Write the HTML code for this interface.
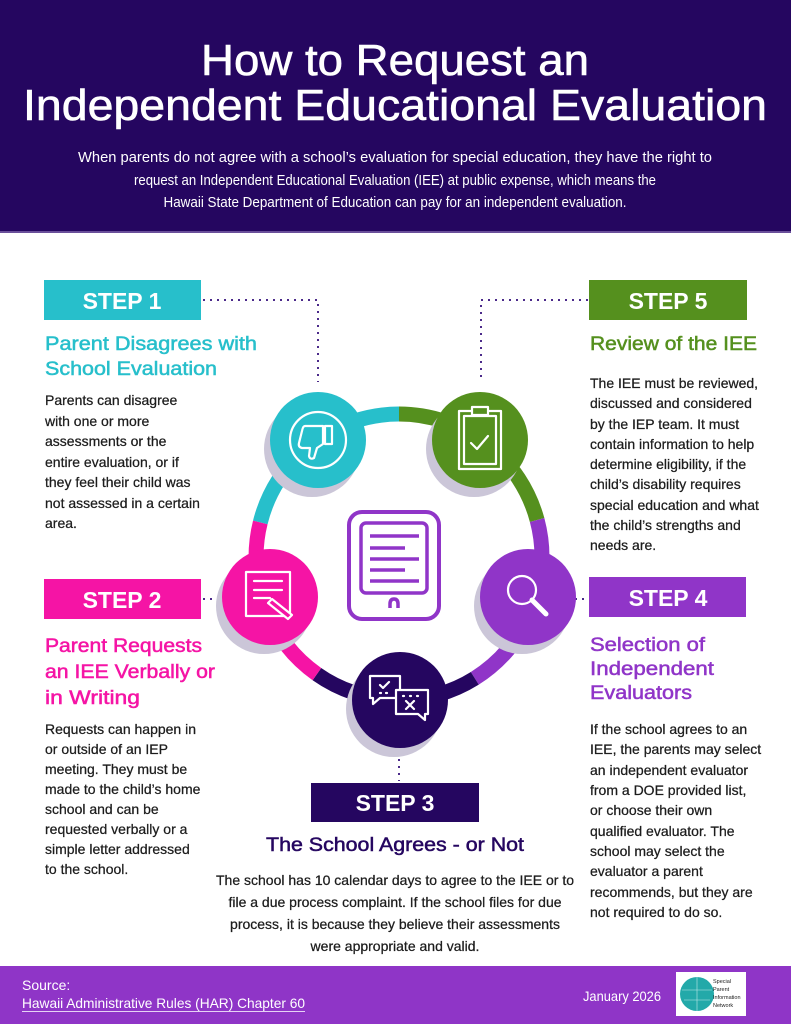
<!DOCTYPE html>
<html><head><meta charset="utf-8"><style>
html,body{margin:0;padding:0;background:#fff}
svg{display:block}
text{font-family:"Liberation Sans",sans-serif}
.b{font-size:14px;fill:#1c1c1c;stroke:#1c1c1c;stroke-width:0.25}
.h{font-size:19px;stroke-width:0.5}
.st{font-size:23px;font-weight:bold;fill:#fff}
</style></head><body>
<svg width="791" height="1024" viewBox="0 0 791 1024" xmlns="http://www.w3.org/2000/svg">
<rect x="0" y="0" width="791" height="231" fill="#250660"/>
<rect x="0" y="231" width="791" height="2" fill="#6a4f9a"/>
<text x="395" y="75" text-anchor="middle" font-size="44" fill="#fff" stroke="#fff" stroke-width="0.6" textLength="388" lengthAdjust="spacingAndGlyphs">How to Request an</text>
<text x="395" y="120" text-anchor="middle" font-size="44" fill="#fff" stroke="#fff" stroke-width="0.6" textLength="744" lengthAdjust="spacingAndGlyphs">Independent Educational Evaluation</text>
<g font-size="15" fill="#fff" text-anchor="middle">
<text x="395" y="162" textLength="634" lengthAdjust="spacingAndGlyphs">When parents do not agree with a school’s evaluation for special education, they have the right to</text>
<text x="395" y="185" textLength="522" lengthAdjust="spacingAndGlyphs">request an Independent Educational Evaluation (IEE) at public expense, which means the</text>
<text x="395" y="207" textLength="463" lengthAdjust="spacingAndGlyphs">Hawaii State Department of Education can pay for an independent evaluation.</text>
</g>

<g stroke="#4b2a8a" stroke-width="2" stroke-dasharray="2 5" fill="none">
<path d="M203 300 H318 V382"/>
<path d="M588 300 H481 V382"/>
<path d="M203 599 H216"/>
<path d="M575 599 H588"/>
<path d="M399 752 V781"/>
</g>

<rect x="44" y="280" width="157" height="40" fill="#27bfcb"/>
<text class="st" x="122" y="309" text-anchor="middle">STEP 1</text>
<rect x="589" y="280" width="158" height="40" fill="#55901e"/>
<text class="st" x="668" y="309" text-anchor="middle">STEP 5</text>
<rect x="44" y="579" width="157" height="40" fill="#f514a5"/>
<text class="st" x="122" y="608" text-anchor="middle">STEP 2</text>
<rect x="589" y="577" width="157" height="40" fill="#9035c8"/>
<text class="st" x="668" y="606" text-anchor="middle">STEP 4</text>
<rect x="311" y="783" width="168" height="39" fill="#250660"/>
<text class="st" x="395" y="811" text-anchor="middle">STEP 3</text>

<g class="h" fill="#27bfcb" stroke="#27bfcb">
<text x="45" y="350" textLength="212" lengthAdjust="spacingAndGlyphs">Parent Disagrees with</text>
<text x="45" y="375" textLength="172" lengthAdjust="spacingAndGlyphs">School Evaluation</text>
</g>
<text class="h" x="590" y="350" fill="#55901e" stroke="#55901e" textLength="167" lengthAdjust="spacingAndGlyphs">Review of the IEE</text>
<g class="h" fill="#f514a5" stroke="#f514a5">
<text x="45" y="652" textLength="157" lengthAdjust="spacingAndGlyphs">Parent Requests</text>
<text x="45" y="678" textLength="170" lengthAdjust="spacingAndGlyphs">an IEE Verbally or</text>
<text x="45" y="704" textLength="95" lengthAdjust="spacingAndGlyphs">in Writing</text>
</g>
<g class="h" fill="#9035c8" stroke="#9035c8">
<text x="590" y="651" textLength="115" lengthAdjust="spacingAndGlyphs">Selection of</text>
<text x="590" y="675" textLength="124" lengthAdjust="spacingAndGlyphs">Independent</text>
<text x="590" y="699" textLength="102" lengthAdjust="spacingAndGlyphs">Evaluators</text>
</g>
<text class="h" x="395" y="851" text-anchor="middle" fill="#250660" stroke="#250660" textLength="258" lengthAdjust="spacingAndGlyphs">The School Agrees - or Not</text>

<g class="b">
<text x="45" y="405">Parents can disagree</text>
<text x="45" y="426">with one or more</text>
<text x="45" y="446">assessments or the</text>
<text x="45" y="467">entire evaluation, or if</text>
<text x="45" y="487">they feel their child was</text>
<text x="45" y="508">not assessed in a certain</text>
<text x="45" y="528">area.</text>
</g>
<g class="b">
<text x="590" y="388">The IEE must be reviewed,</text>
<text x="590" y="408">discussed and considered</text>
<text x="590" y="429">by the IEP team.  It must</text>
<text x="590" y="449">contain information to help</text>
<text x="590" y="469">determine eligibility, if the</text>
<text x="590" y="489">child’s disability requires</text>
<text x="590" y="510">special education and what</text>
<text x="590" y="530">the child’s strengths and</text>
<text x="590" y="550">needs are.</text>
</g>
<g class="b">
<text x="45" y="734">Requests can happen in</text>
<text x="45" y="754">or outside of an IEP</text>
<text x="45" y="774">meeting. They must be</text>
<text x="45" y="794">made to the child’s home</text>
<text x="45" y="814">school and can be</text>
<text x="45" y="834">requested verbally or a</text>
<text x="45" y="854">simple letter addressed</text>
<text x="45" y="874">to the school.</text>
</g>
<g class="b">
<text x="590" y="734">If the school agrees to an</text>
<text x="590" y="754">IEE, the parents may select</text>
<text x="590" y="775">an independent evaluator</text>
<text x="590" y="795">from a DOE provided list,</text>
<text x="590" y="815">or choose their own</text>
<text x="590" y="836">qualified evaluator. The</text>
<text x="590" y="856">school may select the</text>
<text x="590" y="876">evaluator a parent</text>
<text x="590" y="897">recommends, but they are</text>
<text x="590" y="917">not required to do so.</text>
</g>
<g class="b" text-anchor="middle">
<text x="395" y="885">The school has 10 calendar days to agree to the IEE or to</text>
<text x="395" y="907">file a due process complaint.  If the school files for due</text>
<text x="395" y="929">process, it is because they believe their assessments</text>
<text x="395" y="951">were appropriate and valid.</text>
</g>

<g fill="none" stroke-width="15">
<path d="M260.3 522.4 A143 143 0 0 1 399 414" stroke="#27bfcb"/>
<path d="M399 414 A143 143 0 0 1 537.1 520" stroke="#55901e"/>
<path d="M537.1 520 A143 143 0 0 1 474.8 678.3" stroke="#9035c8"/>
<path d="M474.8 678.3 A143 143 0 0 1 316.9 674.1" stroke="#250660"/>
<path d="M316.9 674.1 A143 143 0 0 1 260.3 522.4" stroke="#f514a5"/>
</g>
<g fill="#cbc6d8">
<circle cx="312" cy="449" r="48"/>
<circle cx="474" cy="449" r="48"/>
<circle cx="522" cy="606" r="48"/>
<circle cx="264" cy="606" r="48"/>
<circle cx="394" cy="709" r="48"/>
</g>
<circle cx="318" cy="440" r="48" fill="#27bfcb"/>
<circle cx="480" cy="440" r="48" fill="#55901e"/>
<circle cx="528" cy="597" r="48" fill="#9035c8"/>
<circle cx="270" cy="597" r="48" fill="#f514a5"/>
<circle cx="400" cy="700" r="48" fill="#250660"/>

<g fill="none" stroke="#fff" stroke-width="2.2" stroke-linecap="round" stroke-linejoin="round">
<circle cx="318" cy="440" r="28"/>
<path d="M305 426 h18 v18 l-6 4 l-3 10 q-4 2 -5 -2 l1 -8 h-8 q-4 -1 -3 -5 l3 -12 q1 -5 3 -5z M325 426 h7 v18 h-7z"/>
<rect x="459" y="411" width="42" height="58"/>
<rect x="464" y="416" width="32" height="48"/>
<rect x="472" y="407" width="16" height="8" fill="#55901e"/>
<path d="M471 443 l6 6 l11 -13"/>
<circle cx="522" cy="590" r="14"/>
<path d="M532 600 l14 14" stroke-width="5"/>
<rect x="246" y="572" width="44" height="44"/>
<path d="M254 581 h28 M254 590 h28 M254 598 h16"/>
<path d="M272 599 l20 16 l-4 4 l-20 -16 z" fill="#f514a5"/>
<path d="M370 676 h30 v22 h-20 l-7 6 v-6 h-3z"/>
<path d="M396 690 h32 v24 h-3 v6 l-7 -6 h-22z" fill="#250660"/>
<path d="M380 685 l3 3 l6 -6 M380 693 h1 M386 693 h1 M403 696 h1 M410 696 h1 M417 696 h1 M406 701 l8 8 M414 701 l-8 8"/>
</g>

<g fill="none" stroke="#9035c8">
<rect x="349" y="512" width="90" height="107" rx="13" stroke-width="4"/>
<rect x="361" y="523" width="66" height="70" rx="5" stroke-width="3.5"/>
<path d="M370 536 h49 M370 548 h35 M370 559 h49 M370 570 h35 M370 581 h49" stroke-width="3.5"/>
<path d="M390 608 v-4 q0 -5 4 -5 q4 0 4 5 v4" stroke-width="3.5"/>
</g>

<rect x="0" y="966" width="791" height="58" fill="#8f35c7"/>
<text x="22" y="990" font-size="14" fill="#fff">Source:</text>
<text x="22" y="1008" font-size="14" fill="#fff" textLength="283" lengthAdjust="spacingAndGlyphs">Hawaii Administrative Rules (HAR) Chapter 60</text>
<rect x="22" y="1011" width="283" height="1" fill="#e6d2f5"/>
<text x="583" y="1001" font-size="14" fill="#fff" textLength="78" lengthAdjust="spacingAndGlyphs">January 2026</text>
<rect x="676" y="972" width="70" height="44" fill="#fff"/>
<circle cx="697" cy="994" r="17" fill="#23a9a9"/>
<path d="M682 990 h30 M684 1000 h26 M697 977 v34" stroke="#bfe9e9" stroke-width="0.6"/>
<g font-size="5.5" fill="#222">
<text x="713" y="983">Special</text>
<text x="713" y="991">Parent</text>
<text x="713" y="999">Information</text>
<text x="713" y="1007">Network</text>
</g>
</svg>
</body></html>
